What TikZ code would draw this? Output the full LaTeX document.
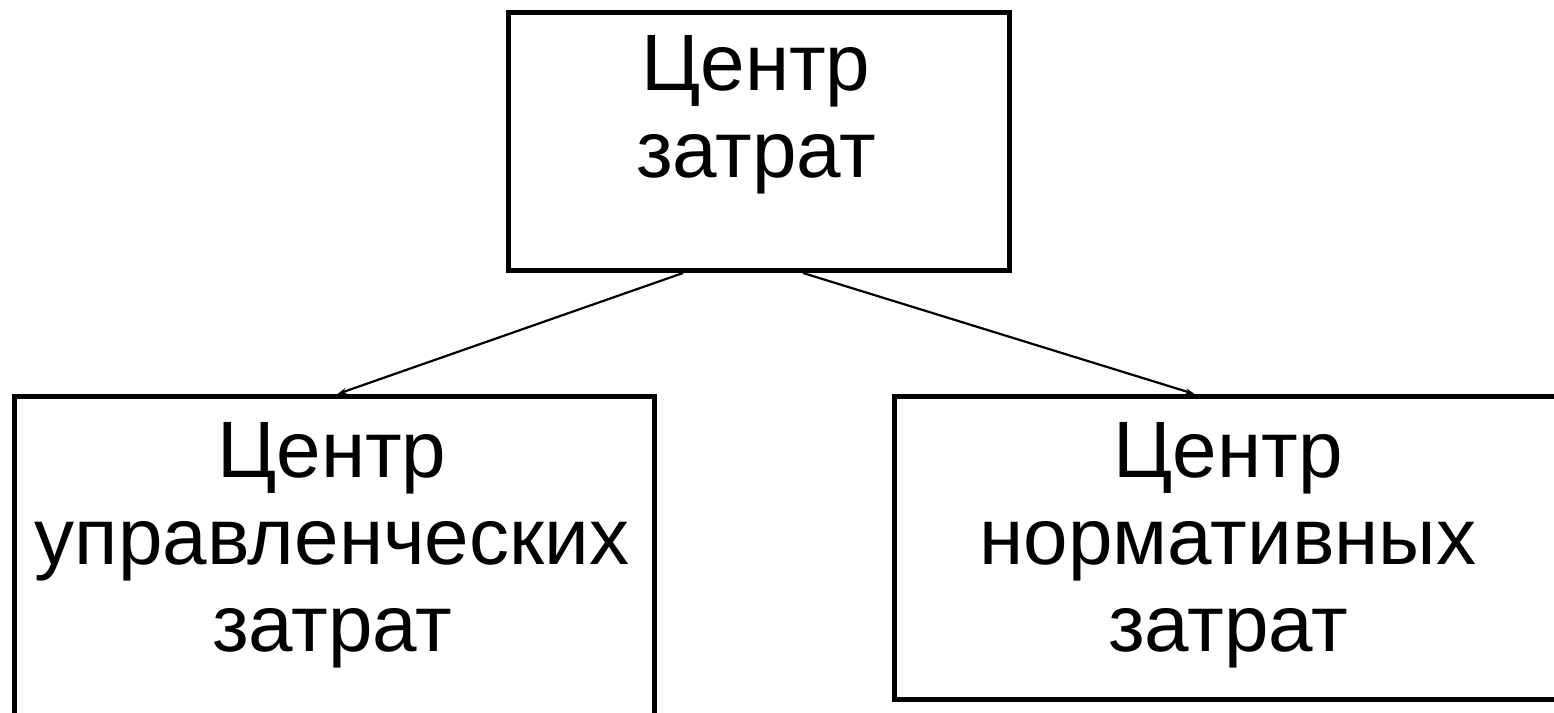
\documentclass[tikz,border=0pt]{standalone}
\usepackage{fontspec}
\setmainfont{Liberation Sans}
\usetikzlibrary{arrows.meta}
\begin{document}
\begin{tikzpicture}[x=1pt,y=-1pt,
  boxstyle/.style={draw=black,line width=5pt,rectangle,inner sep=0pt,anchor=north west},
  txt/.style={font=\fontsize{80}{87}\selectfont,align=center,inner sep=0pt,anchor=base},
  conn/.style={line width=2.2pt,-{Stealth[length=9pt,width=6pt]}}]
\useasboundingbox (0,0) rectangle (1554,712);
\node[boxstyle,minimum width=501pt,minimum height=258pt] (top) at (506,10) {};
\node[boxstyle,minimum width=640pt,minimum height=320pt] (left) at (12,394) {};
\node[boxstyle,minimum width=672pt,minimum height=303pt] (right) at (892,394) {};
\node[txt] (ttop) at (756,177) {Центр\\затрат};
\node[txt] (tleft) at (332,651) {Центр\\управленческих\\затрат};
\node[txt] (tright) at (1228,651) {Центр\\нормативных\\затрат};
\draw[conn] ([xshift=-76pt]top.south) -- ([xshift=3pt]left.north);
\draw[conn] ([xshift=44pt]top.south) -- ([xshift=-36pt]right.north);
\end{tikzpicture}
\end{document}
